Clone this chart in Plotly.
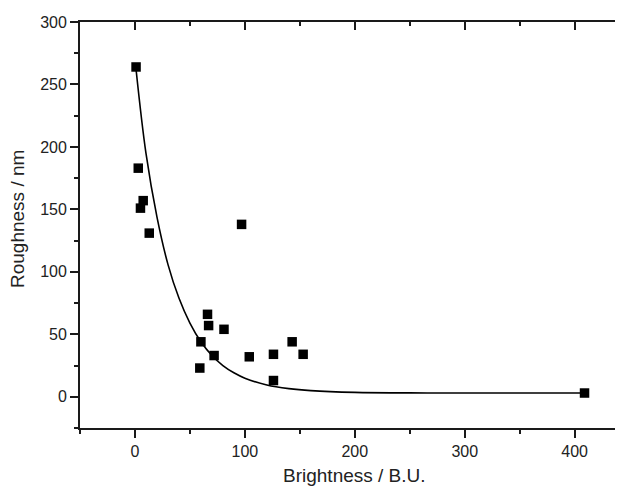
import plotly.graph_objects as go

# Measured data points (Brightness / B.U., Roughness / nm)
brightness = [1, 3, 7.5, 5, 13, 97, 66, 67, 81, 60, 72, 59, 104, 126, 143, 153, 126, 409]
roughness = [264, 183, 157, 151, 131, 138, 66, 57, 54, 44, 33, 23, 32, 34, 44, 34, 13, 3]

# Fitted decay curve
fit_x = [1, 10, 20, 30, 40, 50, 60, 70, 80, 90, 100, 120, 140, 160, 200, 250, 300, 409]
fit_y = [262, 195, 144, 106, 79, 59, 44, 33, 25, 19.2, 14.9, 9.4, 6.5, 4.9, 3.5, 3.1, 3.0, 3.0]

x_ticks = [0, 100, 200, 300, 400]
y_ticks = [0, 50, 100, 150, 200, 250, 300]

x_title = "Brightness / B.U."
y_title = "Roughness / nm"

FONT = "Liberation Sans, Arial, sans-serif"
AX = "#1a1a1a"
TXT = "#222222"

fig = go.Figure()
fig.add_trace(go.Scatter(x=fit_x, y=fit_y, mode="lines",
                         line=dict(color="black", width=1.6, shape="spline"),
                         showlegend=False, hoverinfo="skip"))
fig.add_trace(go.Scatter(x=brightness, y=roughness, mode="markers",
                         marker=dict(symbol="square", size=9.5, color="black"),
                         showlegend=False))
# invisible trace to activate top/right tick axes
fig.add_trace(go.Scatter(x=[None], y=[None], xaxis="x2", yaxis="y2", showlegend=False))

xr = [-50, 444]
yr = [-25, 300]

# page body has an 8px margin, so the figure is sized/offset to compensate
fig.update_layout(
    width=615, height=480,
    margin=dict(l=72, r=0, t=14, b=60, autoexpand=False),
    paper_bgcolor="white", plot_bgcolor="white",
    font=dict(family=FONT, size=16, color=TXT),
    xaxis=dict(range=xr, tickvals=x_ticks, ticks="outside", ticklen=8, tickwidth=1.5,
               tickcolor=AX, showline=True, linecolor=AX, linewidth=1.8, mirror=True,
               showgrid=False, zeroline=False, automargin=False,
               minor=dict(ticks="outside", ticklen=4, dtick=50, tick0=0, tickcolor=AX, tickwidth=1.5)),
    yaxis=dict(range=yr, tickvals=y_ticks, ticks="outside", ticklen=8, tickwidth=1.5,
               tickcolor=AX, showline=True, linecolor=AX, linewidth=1.8, mirror=False,
               showgrid=False, zeroline=False, automargin=False,
               minor=dict(ticks="outside", ticklen=4, dtick=25, tick0=0, tickcolor=AX, tickwidth=1.5)),
    xaxis2=dict(range=xr, overlaying="x", side="top", tickvals=x_ticks, ticks="inside",
                ticklen=8, tickwidth=1.5, tickcolor=AX, showticklabels=False,
                showgrid=False, zeroline=False, showline=False, automargin=False,
                minor=dict(ticks="inside", ticklen=4, dtick=50, tick0=0, tickcolor=AX, tickwidth=1.5)),
    yaxis2=dict(range=yr, overlaying="y", side="right", tickvals=y_ticks, ticks="inside",
                ticklen=2, tickwidth=1.5, tickcolor=AX, showticklabels=False,
                showgrid=False, zeroline=False, showline=False, automargin=False),
    annotations=[
        dict(text=x_title, xref="paper", yref="paper", x=0.506, y=-0.117,
             xanchor="center", yanchor="middle", showarrow=False,
             font=dict(size=19, color=TXT)),
        dict(text=y_title, xref="paper", yref="paper", x=-0.114, y=0.515,
             xanchor="center", yanchor="middle", showarrow=False, textangle=-90,
             font=dict(size=19, color=TXT)),
    ],
)

fig.write_html("out.html")
